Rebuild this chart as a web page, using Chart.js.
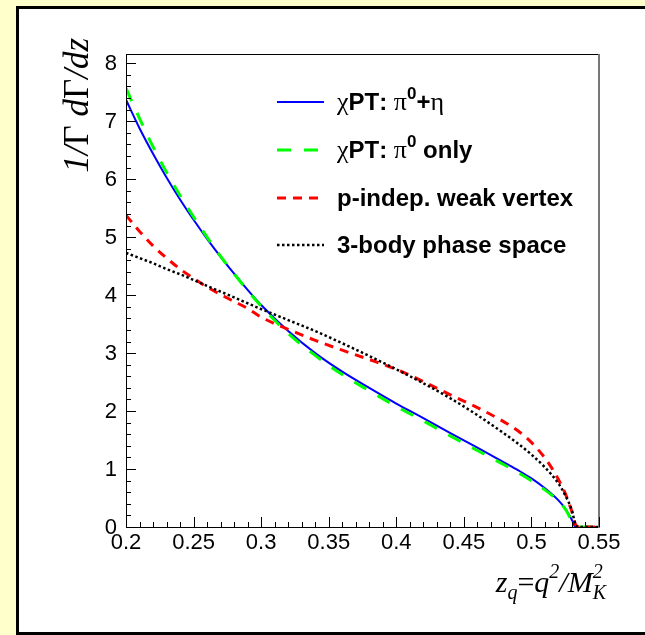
<!DOCTYPE html>
<html>
<head>
<meta charset="utf-8">
<script src="https://cdn.jsdelivr.net/npm/chart.js@4.4.0/dist/chart.umd.min.js"></script>
<style>
    html, body { margin: 0; padding: 0; background: #ffffcc; overflow: hidden; }
    #pad {
        position: absolute; left: 16px; top: 6px; width: 700px; height: 629px;
        box-sizing: border-box; background: #fff; border: 3px solid #000;
    }
    #chart { position: absolute; left: 0; top: 0; }
</style>
</head>
<body>
<div id="pad"></div>
<canvas id="chart" width="645" height="635"></canvas>
<script>
// z_q = q^2 / M_K^2
const zValues = [0.20, 0.21, 0.22, 0.23, 0.24, 0.25, 0.26, 0.27, 0.28, 0.29, 0.30, 0.32, 0.34, 0.36, 0.38,
    0.40, 0.42, 0.44, 0.46, 0.48, 0.49, 0.50, 0.51, 0.515, 0.52, 0.525, 0.53, 0.5325, 0.535, 0.55];

const chptPiEta = [7.37, 6.88, 6.44, 6.03, 5.65, 5.30, 4.97, 4.66, 4.37, 4.09, 3.83, 3.38, 3.00, 2.68, 2.40,
    2.13, 1.88, 1.62, 1.37, 1.11, 0.98, 0.84, 0.67, 0.57, 0.46, 0.32, 0.12, 0.0, 0.0, 0.0];
const chptPi0 = [7.57, 7.05, 6.56, 6.12, 5.72, 5.35, 5.00, 4.67, 4.37, 4.08, 3.81, 3.34, 2.96, 2.63, 2.35,
    2.08, 1.83, 1.57, 1.32, 1.07, 0.94, 0.80, 0.64, 0.55, 0.45, 0.31, 0.10, 0.0, 0.0, 0.0];
const weakVertex = [5.38, 5.10, 4.85, 4.64, 4.45, 4.29, 4.14, 4.01, 3.89, 3.77, 3.62, 3.41, 3.22, 3.05, 2.89,
    2.72, 2.51, 2.28, 2.06, 1.81, 1.66, 1.46, 1.19, 1.02, 0.82, 0.58, 0.26, 0.05, 0.0, 0.0];
const phaseSpace = [4.73, 4.64, 4.55, 4.45, 4.36, 4.26, 4.16, 4.06, 3.96, 3.86, 3.76, 3.57, 3.38, 3.17, 2.95,
    2.72, 2.48, 2.22, 1.93, 1.61, 1.44, 1.25, 1.03, 0.90, 0.75, 0.55, 0.28, 0.05, 0.0, 0.0];

const legendLabels = ['χPT: π0+η', 'χPT: π0 only', 'p-indep. weak vertex', '3-body phase space'];
const xTickLabels = ['0.2', '0.25', '0.3', '0.35', '0.4', '0.45', '0.5', '0.55'];
const yTickLabels = ['0', '1', '2', '3', '4', '5', '6', '7', '8'];

const toPoints = values => values.map((v, i) => ({x: zValues[i], y: v}));

const SERIF = '"Liberation Serif", "Times New Roman", serif';
const SANS = '"Liberation Sans", Arial, sans-serif';

// рисуем текст посимвольно: греческие буквы обычным шрифтом, "0" после π верхним индексом
function drawRich(ctx, text, x, y) {
    let cx = x;
    for (let i = 0; i < text.length; i++) {
        const ch = text[i];
        let dy = 0;
        if ('χπη'.includes(ch)) {
            ctx.font = '26px ' + SERIF;
        } else if (ch === '0' && text[i - 1] === 'π') {
            ctx.font = 'bold 17px ' + SANS;
            dy = -9;
        } else {
            ctx.font = 'bold 24px ' + SANS;
        }
        ctx.fillText(ch, cx, y + dy);
        cx += ctx.measureText(ch).width;
    }
}

// куски формулы: [текст, шрифт, сдвиг базовой линии]
function drawPieces(ctx, pieces, x, y) {
    let cx = x;
    pieces.forEach(p => {
        if (p.stack) {
            let w = 0;
            p.stack.forEach(s => {
                ctx.font = s[1];
                ctx.fillText(s[0], cx, y + s[2]);
                w = Math.max(w, ctx.measureText(s[0]).width);
            });
            cx += w;
        } else {
            ctx.font = p[1];
            ctx.fillText(p[0], cx, y + p[2]);
            cx += ctx.measureText(p[0]).width;
        }
    });
    return cx - x;
}

function piecesWidth(ctx, pieces) {
    let w = 0;
    pieces.forEach(p => {
        if (p.stack) {
            let m = 0;
            p.stack.forEach(s => { ctx.font = s[1]; m = Math.max(m, ctx.measureText(s[0]).width); });
            w += m;
        } else {
            ctx.font = p[1];
            w += ctx.measureText(p[0]).width;
        }
    });
    return w;
}

const rootStyle = {
    id: 'rootStyle',
    afterDraw(chart) {
        const ctx = chart.ctx;
        const area = chart.chartArea;
        const xs = chart.scales.x;
        const ys = chart.scales.y;
        ctx.save();

        // рамка графика
        ctx.strokeStyle = '#000';
        ctx.lineWidth = 1;
        ctx.beginPath();
        ctx.moveTo(area.left + 0.5, area.top + 0.5);
        ctx.lineTo(area.right, area.top + 0.5);
        ctx.moveTo(area.left + 0.5, area.top);
        ctx.lineTo(area.left + 0.5, area.bottom + 0.5);
        ctx.lineTo(area.right, area.bottom + 0.5);
        ctx.stroke();
        ctx.strokeStyle = '#777';
        ctx.lineWidth = 2;
        ctx.beginPath();
        ctx.moveTo(area.right, area.top);
        ctx.lineTo(area.right, area.bottom + 1);
        ctx.stroke();

        // засечки X
        ctx.strokeStyle = '#000';
        ctx.lineWidth = 1;
        ctx.beginPath();
        for (let i = 0; i <= 35; i++) {
            const v = 0.2 + i * 0.01;
            const px = Math.round(xs.getPixelForValue(v)) + 0.5;
            const len = i % 5 === 0 ? 10 : 5;
            ctx.moveTo(px, area.bottom);
            ctx.lineTo(px, area.bottom - len);
        }
        // засечки Y
        for (let i = 0; i <= 40; i++) {
            const v = i * 0.2;
            const py = Math.round(ys.getPixelForValue(v)) + 0.5;
            const len = i % 5 === 0 ? 10 : 5;
            ctx.moveTo(area.left, py);
            ctx.lineTo(area.left + len, py);
        }
        ctx.stroke();

        // подписи осей
        ctx.fillStyle = '#000';
        ctx.font = '22px ' + SANS;
        ctx.textAlign = 'center';
        ctx.textBaseline = 'top';
        xTickLabels.forEach(t => {
            ctx.fillText(t, xs.getPixelForValue(parseFloat(t)), area.bottom + 5);
        });
        ctx.textAlign = 'right';
        ctx.textBaseline = 'middle';
        yTickLabels.forEach(t => {
            ctx.fillText(t, area.left - 9, ys.getPixelForValue(parseFloat(t)) + 1);
        });

        // заголовок X
        ctx.textAlign = 'left';
        ctx.textBaseline = 'alphabetic';
        const it30 = 'italic 30px ' + SERIF;
        const it20 = 'italic 20px ' + SERIF;
        const xTitle = [
            ['z', it30, 0], ['q', it20, 7], ['=', '30px ' + SERIF, 0], ['q', it30, 0],
            ['2', it20, -14], ['/', it30, 0], ['M', it30, 0],
            {stack: [['2', it20, -14], ['K', it20, 7]]}
        ];
        const xw = piecesWidth(ctx, xTitle);
        drawPieces(ctx, xTitle, 606 - xw, 592);

        // заголовок Y
        const it35 = 'italic 35px ' + SERIF;
        const yTitle = [
            ['1/', it35, 0], ['Γ', '35px ' + SERIF, 0], [' d', it35, 0],
            ['Γ', '35px ' + SERIF, 0], ['/dz', it35, 0]
        ];
        const yw = piecesWidth(ctx, yTitle);
        ctx.save();
        ctx.translate(88, 38);
        ctx.rotate(-Math.PI / 2);
        drawPieces(ctx, yTitle, -yw, 0);
        ctx.restore();

        // легенда
        const rows = [102, 150, 198, 245];
        chart.data.datasets.forEach((ds, i) => {
            const y = rows[i];
            ctx.strokeStyle = ds.borderColor;
            ctx.lineWidth = ds.borderWidth;
            ctx.setLineDash(ds.borderDash || []);
            ctx.beginPath();
            ctx.moveTo(277, y);
            ctx.lineTo(324, y);
            ctx.stroke();
            ctx.setLineDash([]);
            ctx.fillStyle = '#000';
            ctx.textBaseline = 'middle';
            drawRich(ctx, ds.label, 337, y + 1);
        });

        ctx.restore();
    }
};

const datasets = [
    {label: legendLabels[0], data: toPoints(chptPiEta), borderColor: '#0000ff', borderWidth: 2, order: 4},
    {label: legendLabels[1], data: toPoints(chptPi0), borderColor: '#00ff00', borderWidth: 3,
        borderDash: [14, 13], order: 3},
    {label: legendLabels[2], data: toPoints(weakVertex), borderColor: '#ff0000', borderWidth: 3,
        borderDash: [9, 7], order: 2},
    {label: legendLabels[3], data: toPoints(phaseSpace), borderColor: '#000000', borderWidth: 2.5,
        borderDash: [2.5, 2.5], order: 1}
];
datasets.forEach(ds => {
    ds.pointRadius = 0;
    ds.fill = false;
    ds.cubicInterpolationMode = 'monotone';
});

new Chart(document.getElementById('chart'), {
    type: 'line',
    data: {datasets: datasets},
    options: {
        responsive: false,
        animation: false,
        layout: {padding: {left: 126, top: 54, right: 46, bottom: 108}},
        plugins: {legend: {display: false}, tooltip: {enabled: false}},
        scales: {
            x: {type: 'linear', min: 0.2, max: 0.55, display: false},
            y: {type: 'linear', min: 0, max: 8.16, display: false}
        }
    },
    plugins: [rootStyle]
});
</script>
</body>
</html>
